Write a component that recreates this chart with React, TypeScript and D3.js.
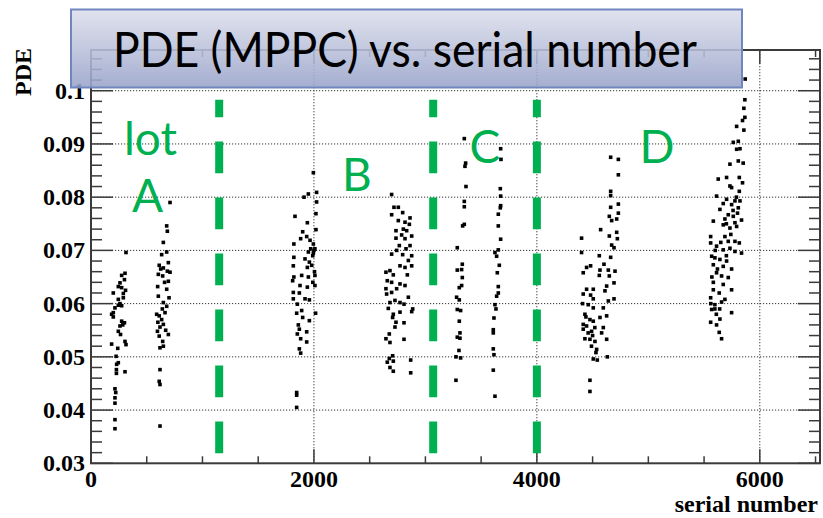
import React, { useEffect, useRef } from "react";
import * as d3 from "d3";

// PDE measured per MPPC, grouped by production lot (serial number, PDE)
const lotA1 = [
  [314, 0.0696], [305, 0.0657], [275, 0.0653], [260, 0.0639], [245, 0.0632], [275, 0.063],
  [200, 0.062], [290, 0.0619], [290, 0.0611], [245, 0.0608], [260, 0.06], [245, 0.0597],
  [215, 0.0592], [275, 0.0596], [185, 0.058], [200, 0.0575], [275, 0.0567], [300, 0.0564],
  [260, 0.0558], [245, 0.0548], [265, 0.0542], [305, 0.0529], [314, 0.0523], [185, 0.0524],
  [240, 0.0516], [225, 0.0501], [230, 0.0486], [245, 0.0489], [228, 0.0476], [228, 0.0469],
  [305, 0.0472], [215, 0.044], [222, 0.0433], [215, 0.0423], [215, 0.0413], [215, 0.0382],
  [215, 0.0365], [300, 0.0645], [310, 0.0625], [285, 0.056], [200, 0.0583],
];
const lotA2 = [
  [709, 0.079], [679, 0.0746], [685, 0.0736], [649, 0.0715], [679, 0.0697], [634, 0.0692],
  [694, 0.0677], [612, 0.0672], [649, 0.0667], [604, 0.0655], [643, 0.0652], [685, 0.0661],
  [709, 0.0659], [694, 0.0642], [598, 0.0632], [679, 0.0627], [604, 0.0614], [700, 0.0611],
  [649, 0.0602], [679, 0.0595], [589, 0.058], [612, 0.0577], [664, 0.0583], [634, 0.057],
  [649, 0.0561], [619, 0.0556], [670, 0.055], [596, 0.0548], [694, 0.0542], [612, 0.0539],
  [643, 0.0529], [619, 0.0517], [649, 0.052], [619, 0.0476], [612, 0.0454], [619, 0.0448],
  [619, 0.037], [625, 0.0665], [660, 0.064], [640, 0.059], [600, 0.0565],
];
const lotB1 = [
  [1995, 0.0846], [1950, 0.0806], [1911, 0.08], [2024, 0.0809], [2024, 0.0791], [2018, 0.0769],
  [1830, 0.0764], [1941, 0.0752], [2018, 0.0739], [1899, 0.0735], [1881, 0.0722], [1935, 0.0726],
  [1820, 0.0712], [1965, 0.0719], [1995, 0.0712], [1971, 0.0703], [2009, 0.0703], [1950, 0.0697],
  [1989, 0.069], [1820, 0.0687], [1920, 0.0684], [1959, 0.0678], [1815, 0.0671], [1941, 0.0668],
  [1820, 0.065], [1890, 0.0653], [1950, 0.065], [2009, 0.0653], [1809, 0.0643], [1875, 0.0634],
  [1941, 0.0631], [2009, 0.0634], [1815, 0.0621], [1869, 0.062], [1920, 0.0609], [1959, 0.0607],
  [1815, 0.0609], [1851, 0.0599], [1890, 0.0587], [1845, 0.0582], [2015, 0.0582], [1899, 0.0574],
  [1959, 0.0568], [1869, 0.0552], [1935, 0.0547], [1851, 0.0543], [1881, 0.0534], [1935, 0.0528],
  [1869, 0.0515], [1881, 0.0507], [1845, 0.0433], [1845, 0.0428], [1845, 0.0405],
  [2000, 0.07], [1995, 0.0695], [2005, 0.066], [1980, 0.0672], [1990, 0.064], [1860, 0.056],
];
const lotB2 = [
  [2697, 0.0805], [2718, 0.0781], [2757, 0.0781], [2697, 0.0767], [2796, 0.0771], [2862, 0.0761],
  [2757, 0.0756], [2817, 0.0753], [2856, 0.0749], [2802, 0.074], [2736, 0.0737], [2832, 0.0737],
  [2787, 0.0729], [2877, 0.0727], [2736, 0.0723], [2817, 0.0722], [2766, 0.0709], [2862, 0.0709],
  [2826, 0.0703], [2742, 0.07], [2796, 0.0692], [2877, 0.069], [2697, 0.0693], [2847, 0.0681],
  [2772, 0.0671], [2877, 0.0671], [2817, 0.0668], [2682, 0.0662], [2646, 0.0659], [2712, 0.0654],
  [2838, 0.0654], [2658, 0.0643], [2697, 0.064], [2772, 0.0637], [2817, 0.0634], [2646, 0.0628],
  [2742, 0.0628], [2697, 0.0621], [2652, 0.0618], [2847, 0.0612], [2727, 0.0606], [2682, 0.0602],
  [2772, 0.0602], [2808, 0.0599], [2667, 0.0591], [2886, 0.059], [2877, 0.0585], [2712, 0.058],
  [2772, 0.0584], [2706, 0.0574], [2736, 0.0565], [2808, 0.0564], [2727, 0.0556], [2676, 0.0543],
  [2646, 0.0534], [2682, 0.0527], [2808, 0.0533], [2706, 0.0502], [2676, 0.0497], [2712, 0.0492],
  [2658, 0.049], [2682, 0.048], [2712, 0.0473], [2868, 0.0494], [2868, 0.047],
];
const lotC1 = [
  [3349, 0.091], [3361, 0.0864], [3355, 0.0858], [3364, 0.082], [3349, 0.0792], [3349, 0.0782],
  [3334, 0.0746], [3349, 0.0749], [3286, 0.0705], [3331, 0.0674], [3325, 0.0664], [3286, 0.0663],
  [3331, 0.0649], [3304, 0.063], [3325, 0.0634], [3280, 0.0612], [3304, 0.0607], [3286, 0.0589],
  [3316, 0.0587], [3304, 0.0567], [3310, 0.0545], [3286, 0.0537], [3310, 0.0535], [3301, 0.0512],
  [3274, 0.05], [3316, 0.0498], [3274, 0.0456],
];
const lotC2 = [
  [3675, 0.0891], [3678, 0.0871], [3672, 0.0816], [3675, 0.0802], [3675, 0.0784], [3672, 0.078],
  [3654, 0.0768], [3654, 0.0746], [3675, 0.0721], [3654, 0.0701], [3624, 0.0696], [3639, 0.0689],
  [3663, 0.0672], [3645, 0.0658], [3654, 0.0632], [3654, 0.062], [3639, 0.0614], [3624, 0.0598],
  [3633, 0.059], [3615, 0.0573], [3609, 0.0551], [3609, 0.0545], [3609, 0.0515], [3615, 0.0504],
  [3609, 0.0475], [3624, 0.0426],
];
const lotD1 = [
  [4662, 0.0875], [4731, 0.0871], [4731, 0.0842], [4662, 0.0811], [4662, 0.0803], [4731, 0.0787],
  [4662, 0.0781], [4731, 0.077], [4650, 0.0764], [4671, 0.0756], [4716, 0.0759], [4572, 0.0739],
  [4650, 0.0727], [4716, 0.0734], [4722, 0.0722], [4401, 0.0723], [4671, 0.071], [4692, 0.0705],
  [4401, 0.0696], [4560, 0.069], [4662, 0.0687], [4602, 0.0674], [4482, 0.0671], [4446, 0.0668],
  [4416, 0.0658], [4566, 0.0663], [4641, 0.0663], [4701, 0.0661], [4560, 0.0653], [4650, 0.0652],
  [4692, 0.0639], [4626, 0.0633], [4506, 0.0627], [4446, 0.0627], [4611, 0.0624], [4416, 0.0618],
  [4482, 0.0616], [4506, 0.0609], [4692, 0.0609], [4641, 0.0605], [4410, 0.06], [4461, 0.0598],
  [4506, 0.0592], [4596, 0.0592], [4431, 0.058], [4626, 0.0577], [4476, 0.057], [4506, 0.0567],
  [4566, 0.0574], [4416, 0.0561], [4446, 0.0558], [4596, 0.0555], [4416, 0.0552], [4491, 0.0548],
  [4581, 0.0545], [4431, 0.0534], [4476, 0.0533], [4521, 0.0529], [4626, 0.0533], [4536, 0.0514],
  [4530, 0.0508], [4506, 0.0496], [4542, 0.0494], [4632, 0.05], [4476, 0.0456], [4476, 0.0435],
  [4440, 0.0575], [4460, 0.0545], [4500, 0.054], [4520, 0.0555], [4490, 0.052],
];
const lotD2 = [
  [5869, 0.1022], [5866, 0.0983], [5857, 0.0967], [5866, 0.095], [5845, 0.0944], [5792, 0.0933],
  [5857, 0.0926], [5762, 0.0903], [5807, 0.0905], [5792, 0.089], [5822, 0.0891], [5807, 0.0868],
  [5732, 0.0862], [5851, 0.0864], [5627, 0.0834], [5702, 0.0837], [5816, 0.0837], [5845, 0.0827],
  [5732, 0.0821], [5747, 0.0818], [5816, 0.0811], [5612, 0.0802], [5702, 0.0796], [5777, 0.0793],
  [5822, 0.0793], [5672, 0.0788], [5747, 0.0786], [5807, 0.078], [5642, 0.0777], [5717, 0.0767],
  [5762, 0.0764], [5687, 0.0759], [5836, 0.0757], [5583, 0.0755], [5777, 0.0752], [5672, 0.0748],
  [5732, 0.0742], [5792, 0.0745], [5559, 0.0726], [5687, 0.0726], [5717, 0.0717], [5777, 0.0717],
  [5816, 0.0714], [5559, 0.0714], [5612, 0.0708], [5672, 0.0701], [5732, 0.0704], [5777, 0.0698],
  [5836, 0.0695], [5568, 0.0689], [5597, 0.0686], [5642, 0.0683], [5702, 0.068], [5583, 0.0673],
  [5672, 0.067], [5747, 0.0665], [5612, 0.0658], [5657, 0.0652], [5717, 0.0649], [5583, 0.064],
  [5672, 0.0636], [5747, 0.0626], [5583, 0.0626], [5636, 0.062], [5559, 0.0611], [5687, 0.0608],
  [5597, 0.0598], [5657, 0.0603], [5568, 0.0589], [5597, 0.059], [5747, 0.0583], [5559, 0.0565],
  [5642, 0.0571], [5612, 0.056], [5636, 0.0546], [5657, 0.0534],
  [5790, 0.08], [5760, 0.0775], [5800, 0.077], [5700, 0.075], [5740, 0.073], [5650, 0.0715],
  [5600, 0.07], [5700, 0.069], [5620, 0.0665], [5570, 0.065], [5560, 0.06], [5610, 0.058], [5640, 0.059],
];

// lot boundaries (serial number) and the labels written on the slide
const lotBounds = [1150, 3070, 4000];
const lotLabels = ["lot", "A", "B", "C", "D"];
const lotLabelSerial = [534, 507, 2386, 3534, 5077];
const lotLabelPde = [0.088, 0.0773, 0.0812, 0.0865, 0.0865];

const xMajor = [0, 2000, 4000, 6000];
const yMajor = [0.03, 0.04, 0.05, 0.06, 0.07, 0.08, 0.09, 0.1];

const W = 823;
const H = 518;
const left = 91;
const right = 820;
const top = 50;
const bottom = 463.3;

function App() {
  const ref = useRef(null);

  useEffect(() => {
    drawChart();
  }, []);

  function drawChart() {
    const svg = d3.select(ref.current);
    svg.selectAll("*").remove();

    const x = d3.scaleLinear().domain([0, 6540]).range([left, right]);
    const y = d3.scaleLinear().domain([0.03, 0.10765]).range([bottom, top]);

    // grid
    const grid = svg.append("g").attr("stroke", "#333").attr("stroke-width", 1).attr("stroke-dasharray", "1.2,1.8");
    xMajor.filter((v) => v > 0).forEach((v) => {
      grid.append("line").attr("x1", x(v)).attr("x2", x(v)).attr("y1", bottom).attr("y2", top);
    });
    yMajor.filter((v) => v > 0.03).forEach((v) => {
      grid.append("line").attr("x1", left).attr("x2", right).attr("y1", y(v)).attr("y2", y(v));
    });

    // ticks on all four sides
    const xMinor = d3.range(0, 6541, 500);
    const yMinor = d3.range(0, 39).map((i) => 0.03 + i * 0.002).filter((v) => v <= 0.1077);
    const ticks = svg.append("g").attr("stroke", "#3a3a3a").attr("stroke-width", 1.5);
    xMinor.forEach((v) => {
      const len = v % 2000 === 0 ? 14 : 7;
      ticks.append("line").attr("x1", x(v)).attr("x2", x(v)).attr("y1", bottom).attr("y2", bottom - len);
      ticks.append("line").attr("x1", x(v)).attr("x2", x(v)).attr("y1", top).attr("y2", top + len);
    });
    yMinor.forEach((v, i) => {
      const len = i % 5 === 0 ? 22 : 11;
      ticks.append("line").attr("x1", left).attr("x2", left + len).attr("y1", y(v)).attr("y2", y(v));
      ticks.append("line").attr("x1", right).attr("x2", right - len).attr("y1", y(v)).attr("y2", y(v));
    });

    // frame
    svg
      .append("rect")
      .attr("x", left)
      .attr("y", top)
      .attr("width", right - left)
      .attr("height", bottom - top)
      .attr("fill", "none")
      .attr("stroke", "#3a3a3a")
      .attr("stroke-width", 2);

    // tick labels
    const font = "'Liberation Serif', 'Times New Roman', serif";
    svg
      .append("g")
      .selectAll("text")
      .data(yMajor)
      .join("text")
      .attr("x", 85)
      .attr("y", (d) => y(d) + 8)
      .attr("text-anchor", "end")
      .attr("font-family", font)
      .attr("font-weight", "bold")
      .attr("font-size", 24)
      .text((d) => d3.format("~g")(d));
    svg
      .append("g")
      .selectAll("text")
      .data(xMajor)
      .join("text")
      .attr("x", (d) => x(d))
      .attr("y", 487)
      .attr("text-anchor", "middle")
      .attr("font-family", font)
      .attr("font-weight", "bold")
      .attr("font-size", 24)
      .text((d) => d);

    svg
      .append("text")
      .attr("x", 818)
      .attr("y", 512)
      .attr("text-anchor", "end")
      .attr("font-family", font)
      .attr("font-weight", "bold")
      .attr("font-size", 24)
      .text("serial number");
    svg
      .append("text")
      .attr("transform", "translate(31,48) rotate(-90)")
      .attr("text-anchor", "end")
      .attr("font-family", font)
      .attr("font-weight", "bold")
      .attr("font-size", 24)
      .text("PDE");

    // lot boundaries
    lotBounds.forEach((b) => {
      svg
        .append("line")
        .attr("x1", x(b))
        .attr("x2", x(b))
        .attr("y1", y(0.0319))
        .attr("y2", y(0.0983))
        .attr("stroke", "#00b050")
        .attr("stroke-width", 8)
        .attr("stroke-dasharray", "31.6,24.4");
    });

    // points
    const all = [lotA1, lotA2, lotB1, lotB2, lotC1, lotC2, lotD1, lotD2].flat();
    svg
      .append("g")
      .selectAll("rect")
      .data(all)
      .join("rect")
      .attr("x", (d) => x(d[0]) - 1.8)
      .attr("y", (d) => y(d[1]) - 1.8)
      .attr("width", 3.6)
      .attr("height", 3.6)
      .attr("fill", "#000");

    // lot labels
    svg
      .append("g")
      .selectAll("text")
      .data(lotLabels)
      .join("text")
      .attr("x", (d, i) => x(lotLabelSerial[i]))
      .attr("y", (d, i) => y(lotLabelPde[i]))
      .attr("text-anchor", "middle")
      .attr("font-family", "Lato, 'Open Sans', sans-serif")
      .attr("font-size", 46)
      .attr("fill", "#00b050")
      .text((d) => d);

    // title box
    const defs = svg.append("defs");
    const grad = defs.append("linearGradient").attr("id", "titleGrad").attr("x1", 0).attr("x2", 0).attr("y1", 0).attr("y2", 1);
    grad.append("stop").attr("offset", "0%").attr("stop-color", "#dcdfeb");
    grad.append("stop").attr("offset", "100%").attr("stop-color", "#99a3ca");
    svg
      .append("rect")
      .attr("x", 71)
      .attr("y", 9.5)
      .attr("width", 671)
      .attr("height", 78)
      .attr("fill", "url(#titleGrad)")
      .attr("fill-opacity", 0.88)
      .attr("stroke", "#6f86bf")
      .attr("stroke-width", 2);
    svg
      .append("text")
      .attr("x", 113)
      .attr("y", 67)
      .attr("font-family", "Lato, 'Open Sans', sans-serif")
      .attr("font-size", 48)
      .attr("textLength", 584)
      .attr("lengthAdjust", "spacingAndGlyphs")
      .attr("fill", "#000")
      .text("PDE (MPPC) vs. serial number");
  }

  return <svg ref={ref} width={W} height={H} style={{ position: "absolute", left: 0, top: 0, background: "#fff" }} />;
}

export default App;
